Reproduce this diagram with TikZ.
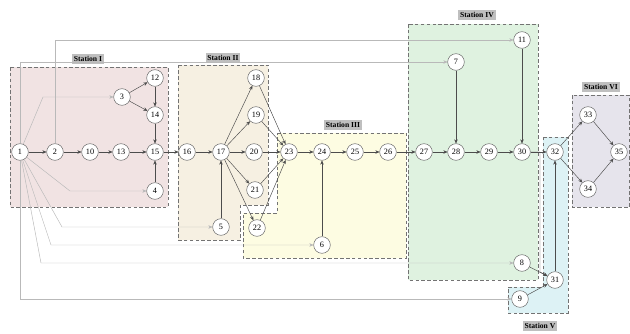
\documentclass[tikz,border=0pt]{standalone}
\usepackage{fontspec}
\setmainfont{Liberation Serif}
\usetikzlibrary{arrows.meta,positioning}
\definecolor{stn-one}{HTML}{F1E3E3}
\definecolor{stn-two}{HTML}{F6F0E2}
\definecolor{stn-three}{HTML}{FDFCE2}
\definecolor{stn-four}{HTML}{DFF2E0}
\definecolor{stn-five}{HTML}{DDF2F5}
\definecolor{stn-six}{HTML}{E6E4EC}
\tikzset{
  task/.style={
    circle, draw=black!60, fill=white,
    minimum size=0.5cm, inner sep=0pt,
    font=\fontsize{7}{8}\selectfont
  },
  stnbox/.style={
    draw=black!55, densely dashed, thin
  },
  stnlabel/.style={
    fill=gray!50, inner sep=1.6pt,
    font=\fontsize{6.5}{7}\selectfont\bfseries
  },
  arr/.style={
    -{Stealth[length=3.5pt,width=3pt]}, thin, draw=black!70
  },
  feed/.style={
    -{Stealth[length=3.5pt,width=3pt]}, thin, draw=gray!55
  },
}

\begin{document}
\begin{tikzpicture}[x=0.03cm, y=-0.03cm]
  \useasboundingbox (0,0) rectangle (630,334);

  \draw[stnbox, fill=stn-one]   (10,67) rectangle (168,207);
  \draw[stnbox, fill=stn-two]   (178,65) -- (268,65) -- (268,205) -- (240,205) -- (240,240) -- (178,240) -- cycle;
  \draw[stnbox, fill=stn-three] (277,133) -- (406,133) -- (406,258) -- (243,258) -- (243,213) -- (277,213) -- cycle;
  \draw[stnbox, fill=stn-four]  (408,24) rectangle (538,280);
  \draw[stnbox, fill=stn-five]  (543,137) -- (568,137) -- (568,313) -- (508,313) -- (508,287) -- (543,287) -- cycle;
  \draw[stnbox, fill=stn-six]   (572,95) rectangle (629.5,207);

  \node[stnlabel] (lab1) at (88,59)   {Station I};
  \node[stnlabel] (lab2) at (223,58)  {Station II};
  \node[stnlabel] (lab3) at (343,125) {Station III};
  \node[stnlabel] (lab4) at (477,15)  {Station IV};
  \node[stnlabel] (lab5) at (540,326) {Station V};
  \node[stnlabel] (lab6) at (601,87)  {Station VI};

  \node[task] (n1)  at (20,152)  {1};
  \node[task] (n2)  at (55,152)  {2};
  \node[task] (n10) at (90,152)  {10};
  \node[task] (n13) at (121,152) {13};
  \node[task] (n15) at (155,152) {15};
  \node[task] (n12) at (155,78)  {12};
  \node[task] (n3)  at (122,97)  {3};
  \node[task] (n14) at (155,115) {14};
  \node[task] (n4)  at (155,191) {4};

  \node[task] (n16) at (187,152) {16};
  \node[task] (n17) at (221,152) {17};
  \node[task] (n18) at (256,78)  {18};
  \node[task] (n19) at (256,115) {19};
  \node[task] (n20) at (254,152) {20};
  \node[task] (n21) at (255,190) {21};
  \node[task] (n22) at (257,228) {22};
  \node[task] (n5)  at (221,227) {5};

  \node[task] (n23) at (289,152) {23};
  \node[task] (n24) at (322,152) {24};
  \node[task] (n25) at (355,152) {25};
  \node[task] (n26) at (388,152) {26};
  \node[task] (n6)  at (322,245) {6};

  \node[task] (n27) at (424,152) {27};
  \node[task] (n28) at (456,152) {28};
  \node[task] (n29) at (489,152) {29};
  \node[task] (n30) at (522,152) {30};
  \node[task] (n7)  at (456,62)  {7};
  \node[task] (n11) at (522,40)  {11};
  \node[task] (n8)  at (522,263) {8};

  \node[task] (n32) at (555,152) {32};
  \node[task] (n31) at (555,280) {31};
  \node[task] (n9)  at (520,299) {9};

  \node[task] (n33) at (588,115) {33};
  \node[task] (n35) at (619,152) {35};
  \node[task] (n34) at (588,189) {34};

  \draw[feed] (n1) -- (43,97) -- (n3);
  \draw[feed] (n1) -- (70,191) -- (n4);
  \draw[feed] (n1) -- (62,227) -- (n5);
  \draw[feed] (n1) -- (51,245) -- (n6);
  \draw[feed] (n1) -- (41,263) -- (n8);
  \draw[feed] (n1) |- (n9);
  \draw[feed] (n1) |- (n7);
  \draw[feed] (n2) |- (n11);

  \draw[arr] (n1)  -- (n2);
  \draw[arr] (n2)  -- (n10);
  \draw[arr] (n10) -- (n13);
  \draw[arr] (n13) -- (n15);
  \draw[arr] (n3)  -- (n12);
  \draw[arr] (n3)  -- (n14);
  \draw[arr] (n12) -- (n14);
  \draw[arr] (n14) -- (n15);
  \draw[arr] (n4)  -- (n15);
  \draw[arr] (n15) -- (n16);

  \draw[arr] (n16) -- (n17);
  \draw[arr] (n5)  -- (n17);
  \draw[arr] (n17) -- (n18);
  \draw[arr] (n17) -- (n19);
  \draw[arr] (n17) -- (n20);
  \draw[arr] (n17) -- (n21);
  \draw[arr] (n17) -- (n22);
  \draw[arr] (n18) -- (n23);
  \draw[arr] (n19) -- (n23);
  \draw[arr] (n20) -- (n23);
  \draw[arr] (n21) -- (n23);
  \draw[arr] (n22) -- (n23);

  \draw[arr] (n23) -- (n24);
  \draw[arr] (n24) -- (n25);
  \draw[arr] (n25) -- (n26);
  \draw[arr] (n6)  -- (n24);
  \draw[arr] (n26) -- (n27);

  \draw[arr] (n27) -- (n28);
  \draw[arr] (n28) -- (n29);
  \draw[arr] (n29) -- (n30);
  \draw[arr] (n7)  -- (n28);
  \draw[arr] (n11) -- (n30);

  \draw[arr] (n30) -- (n32);
  \draw[arr] (n30) -- (540,152) -- (540,272) -- (n31);
  \draw[arr] (n8)  -- (n31);
  \draw[arr] (n9)  -- (n31);
  \draw[arr] (n31) -- (n32);

  \draw[arr] (n32) -- (n33);
  \draw[arr] (n32) -- (n34);
  \draw[arr] (n33) -- (n35);
  \draw[arr] (n34) -- (n35);
\end{tikzpicture}
\end{document}
